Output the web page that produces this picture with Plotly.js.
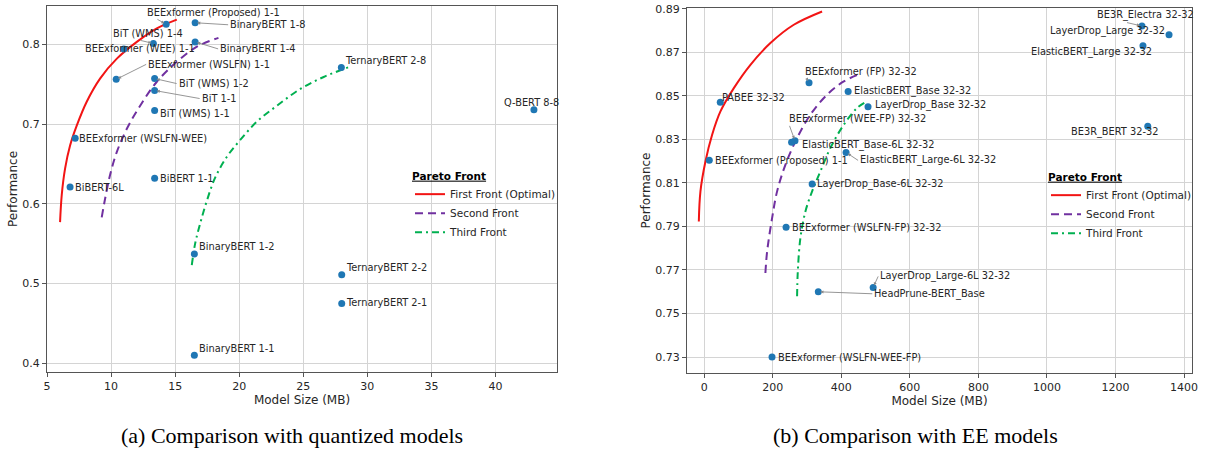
<!DOCTYPE html>
<html>
<head>
<meta charset="utf-8">
<script src="https://cdn.plot.ly/plotly-3.0.1.min.js"></script>
<style>html,body{margin:0;padding:0;background:#fff;}#chart{width:1208px;height:449px;}</style>
</head>
<body>
<div id="chart"></div>
<script>
// ---------- (a) quantized models ----------
const quantModels = ['BEExformer (Proposed) 1-1','BinaryBERT 1-8','BiT (WMS) 1-4','BEExformer (WEE) 1-1','BinaryBERT 1-4',
  'BEExformer (WSLFN) 1-1','BiT (WMS) 1-2','BiT 1-1','BiT (WMS) 1-1','BEExformer (WSLFN-WEE)','BiBERT 1-1','BiBERT-6L',
  'BinaryBERT 1-2','BinaryBERT 1-1','TernaryBERT 2-8','Q-BERT 8-8','TernaryBERT 2-2','TernaryBERT 2-1'];
const quantSize = [14.3,16.56,13.3,11.0,16.56,10.4,13.4,13.4,13.4,7.2,13.4,6.8,16.5,16.5,27.97,43.0,28.0,28.0];
const quantPerf = [0.825,0.827,0.801,0.794,0.803,0.756,0.757,0.742,0.717,0.682,0.632,0.621,0.537,0.410,0.771,0.718,0.511,0.475];

// Pareto fronts (a)
const qFront1Size = [6.02,6.15,6.41,6.80,7.32,8.10,9.14,10.45,12.01,13.57,15.13];
const qFront1Perf = [0.577,0.611,0.644,0.673,0.698,0.728,0.757,0.782,0.803,0.820,0.831];
const qFront2Size = [9.27,9.53,9.92,10.45,11.23,12.27,13.57,15.13,16.70,18.38];
const qFront2Perf = [0.583,0.606,0.636,0.665,0.694,0.723,0.753,0.778,0.797,0.808];
const qFront3Size = [16.30,16.56,16.95,17.48,18.13,19.04,20.08,21.38,22.95,24.77,26.59,28.67];
const qFront3Perf = [0.523,0.550,0.575,0.604,0.633,0.659,0.680,0.703,0.723,0.744,0.759,0.772];

// ---------- (b) EE models ----------
const eeModels = ['PABEE 32-32','BEExformer (Proposed) 1-1','BEExformer (FP) 32-32','ElasticBERT_Base 32-32','LayerDrop_Base 32-32',
  'BEExformer (WEE-FP) 32-32','ElasticBERT_Base-6L 32-32','ElasticBERT_Large-6L 32-32','LayerDrop_Base-6L 32-32',
  'BEExformer (WSLFN-FP) 32-32','LayerDrop_Large-6L 32-32','HeadPrune-BERT_Base','BEExformer (WSLFN-WEE-FP)',
  'BE3R_Electra 32-32','LayerDrop_Large 32-32','ElasticBERT_Large 32-32','BE3R_BERT 32-32'];
const eeSize = [47,15,306,420,478,265,255,414,315,239,493,333,198,1277,1356,1280,1294];
const eePerf = [0.847,0.8204,0.856,0.852,0.845,0.8293,0.8286,0.824,0.8095,0.7896,0.762,0.760,0.730,0.882,0.878,0.873,0.836];

const eFront1Size = [-15.5,-10.8,3.8,23.3,47.5,86.6,135.0,193.3,261.5,344.0];
const eFront1Perf = [0.7923,0.8061,0.8198,0.8321,0.8428,0.8535,0.8642,0.8742,0.8826,0.8887];
const eFront2Size = [178.7,183.7,198.3,212.8,237.0,271.1,309.9,358.6,407.3,460.6];
const eFront2Perf = [0.7686,0.7785,0.7939,0.8061,0.8183,0.8306,0.8413,0.8505,0.8566,0.8604];
const eFront3Size = [271.1,273.2,280.8,295.4,314.9,339.1,368.2,407.3,446.1,475.2];
const eFront3Perf = [0.7579,0.7694,0.7847,0.7969,0.8061,0.8153,0.8260,0.8367,0.8444,0.8474];

const frontNames = ['First Front (Optimal)','Second Front','Third Front'];
const captions = ['(a) Comparison with quantized models','(b) Comparison with EE models'];

// ---------- label placement (pixels, styling only) ----------
const quantLabelDx = [-21,33,-42,-41,23,30,22,45,3,2,3,3,3,3,2,-32,2,2];
const quantLabelDy = [-12,2,-10,-1,7,-15,5,8,3,0,0,0,-7,-7,-7,-7,-7,-1];
const quantLabelArrow = [1,1,1,0,1,1,1,1,0,0,0,0,0,0,0,0,0,0];
const eeLabelDx = [0,4,-6,4,5,-8,8,12,3,4,5,54,4,-47,-121,-114,-79];
const eeLabelDy = [-5,0,-11,0,-2,-22,3,8,0,0,-11,2,0,-11,-4,6,6];
const eeLabelArrow = [0,0,1,0,0,1,0,1,0,0,1,1,0,1,1,1,1];

const FONT = 'DejaVu Sans, sans-serif';
const colors = ['#f21414','#7030a0','#00b050'];
const dashes = ['solid','8px,5px','7px,4px,2px,4px'];

function frontTraces(xs, ys, xa, ya, leg) {
  return xs.map((xv, i) => ({
    x: xv, y: ys[i], xaxis: xa, yaxis: ya, type: 'scatter', mode: 'lines',
    name: frontNames[i], legend: leg,
    line: {color: colors[i], width: 2, dash: dashes[i], shape: 'spline', smoothing: 1}
  }));
}

const traces = [
  ...frontTraces([qFront1Size,qFront2Size,qFront3Size],[qFront1Perf,qFront2Perf,qFront3Perf],'x','y','legend'),
  {x: quantSize, y: quantPerf, xaxis:'x', yaxis:'y', type:'scatter', mode:'markers', showlegend:false,
   marker:{color:'#1f77b4', size:7}},
  ...frontTraces([eFront1Size,eFront2Size,eFront3Size],[eFront1Perf,eFront2Perf,eFront3Perf],'x2','y2','legend2'),
  {x: eeSize, y: eePerf, xaxis:'x2', yaxis:'y2', type:'scatter', mode:'markers', showlegend:false,
   marker:{color:'#1f77b4', size:7}}
];

function labels(names, xs, ys, dx, dy, arrow, xr, yr) {
  return names.map((n, i) => {
    const base = {text: n, x: xs[i], y: ys[i], xref: xr, yref: yr, xanchor: 'left', yanchor: 'middle',
      font: {family: FONT, size: 9.8, color: '#262626'}};
    if (arrow[i]) {
      return Object.assign(base, {showarrow: true, ax: dx[i], ay: dy[i], arrowhead: 2, arrowsize: 0.7,
        arrowwidth: 0.9, arrowcolor: '#8a8a8a', standoff: 2});
    }
    return Object.assign(base, {showarrow: false, xshift: dx[i], yshift: -dy[i]});
  });
}

const annotations = [
  ...labels(quantModels, quantSize, quantPerf, quantLabelDx, quantLabelDy, quantLabelArrow, 'x', 'y'),
  ...labels(eeModels, eeSize, eePerf, eeLabelDx, eeLabelDy, eeLabelArrow, 'x2', 'y2'),
  {text: captions[0], xref:'paper', yref:'paper', x: 292/1208, y: 1-435/449, showarrow:false,
   xanchor:'center', yanchor:'middle', font:{family:'Liberation Serif, serif', size:22, color:'#000'}},
  {text: captions[1], xref:'paper', yref:'paper', x: 915/1208, y: 1-435/449, showarrow:false,
   xanchor:'center', yanchor:'middle', font:{family:'Liberation Serif, serif', size:22, color:'#000'}}
];

function axisStyle(extra) {
  return Object.assign({
    showline: true, mirror: true, linecolor: '#555', linewidth: 1,
    showgrid: true, gridcolor: '#d4d4d4', gridwidth: 1, zeroline: false,
    ticks: 'outside', ticklen: 4, tickcolor: '#555', tickwidth: 1,
    tickfont: {family: FONT, size: 11, color: '#262626'},
    automargin: false
  }, extra);
}

const legendBase = {
  xanchor: 'left', yanchor: 'top', bgcolor: 'rgba(0,0,0,0)', borderwidth: 0,
  font: {family: FONT, size: 10.5, color: '#262626'}, itemwidth: 30, tracegroupgap: 0,
  title: {text: '<b><u>Pareto Front</u></b>', side: 'top', font: {family: FONT, size: 10.5, color: '#000'}}
};

const layout = {
  width: 1208, height: 449, margin: {l:0, r:0, t:0, b:0}, paper_bgcolor: '#fff', plot_bgcolor: '#fff',
  showlegend: true,
  xaxis: axisStyle({domain: [47/1208, 557/1208], range: [5, 44.8], tickvals: [5,10,15,20,25,30,35,40],
    title: {text: 'Model Size (MB)', font: {family: FONT, size: 12, color: '#262626'}, standoff: 3}, anchor: 'y'}),
  yaxis: axisStyle({domain: [1-372/449, 1-6/449], range: [0.389, 0.848], tickvals: [0.4,0.5,0.6,0.7,0.8], tickformat: '.1f',
    title: {text: 'Performance', font: {family: FONT, size: 12, color: '#262626'}, standoff: 2}, anchor: 'x'}),
  xaxis2: axisStyle({domain: [687/1208, 1192/1208], range: [-50, 1423], tickvals: [0,200,400,600,800,1000,1200,1400],
    title: {text: 'Model Size (MB)', font: {family: FONT, size: 12, color: '#262626'}, standoff: 3}, anchor: 'y2'}),
  yaxis2: axisStyle({domain: [1-373/449, 1-8/449], range: [0.7227, 0.8903],
    tickvals: [0.73,0.75,0.77,0.79,0.81,0.83,0.85,0.87,0.89], tickformat: '.2f',
    title: {text: 'Performance', font: {family: FONT, size: 12, color: '#262626'}, standoff: 2}, anchor: 'x2'}),
  legend: Object.assign({}, legendBase, {x: 410/1208, y: 1-166/449}),
  legend2: Object.assign({}, legendBase, {x: 1046/1208, y: 1-167/449}),
  annotations: annotations
};

Plotly.newPlot('chart', traces, layout, {staticPlot: true, displayModeBar: false});
</script>
</body>
</html>
